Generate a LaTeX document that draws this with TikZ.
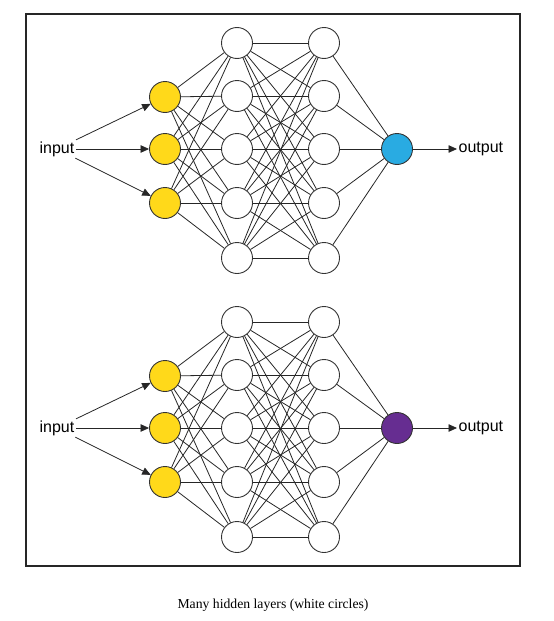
\documentclass[tikz,border=0pt]{standalone}
\usepackage{fontspec}
\setmainfont{Liberation Serif}
\newfontfamily\labelfont{Liberation Sans}
\usetikzlibrary{arrows.meta}

\definecolor{inyellow}{RGB}{255,217,26}
\definecolor{outblue}{RGB}{41,171,226}
\definecolor{outpurple}{RGB}{102,45,145}

\tikzset{
  neuron/.style={circle, draw=black!80, line width=0.9pt, minimum size=31pt, inner sep=0pt},
  link/.style={line width=0.8pt, black!85},
  io/.style={font=\labelfont\fontsize{16}{18}\selectfont, inner sep=1.5pt},
  tip/.style={-{Triangle[length=8.5pt,width=7.5pt]}}
}

\begin{document}
\begin{tikzpicture}[x=1pt,y=-1pt]
  \useasboundingbox (0,0) rectangle (554,621);

  \draw [line width=2pt, black!85] (26,14) rectangle (520,566);

  \foreach \net/\dy/\col in {a/0/outblue, b/279/outpurple} {
    % hidden layers
    \foreach \i/\y in {1/43,2/96,3/149,4/203,5/258} {
      \node [neuron, fill=white] (\net h\i) at (237,\y+\dy) {};
      \node [neuron, fill=white] (\net k\i) at (324,\y+\dy) {};
    }
    % input and output layer
    \foreach \j/\y in {1/97,2/149,3/203}
      \node [neuron, fill=inyellow] (\net i\j) at (165,\y+\dy) {};
    \node [neuron, fill=\col] (\net o) at (397,149+\dy) {};

    \node [io] (\net in) at (57,149+\dy) {input};
    \node [io, anchor=west] (\net out) at (457,149+\dy) {output};

    \foreach \j in {1,2,3}
      \draw [link, tip] (\net in) -- (\net i\j);
    \draw [link, tip] (\net o) -- (\net out);

    \foreach \j in {1,2,3}
      \foreach \i in {1,...,5}
        \draw [link] (\net i\j) -- (\net h\i);
    \foreach \i in {1,...,5}
      \foreach \k in {1,...,5}
        \draw [link] (\net h\i) -- (\net k\k);
    \foreach \k in {1,...,5}
      \draw [link] (\net k\k) -- (\net o);
  }

  \node [font=\fontsize{13.7}{16}\selectfont] (caption) at (273,605) {Many hidden layers (white circles)};
\end{tikzpicture}
\end{document}
